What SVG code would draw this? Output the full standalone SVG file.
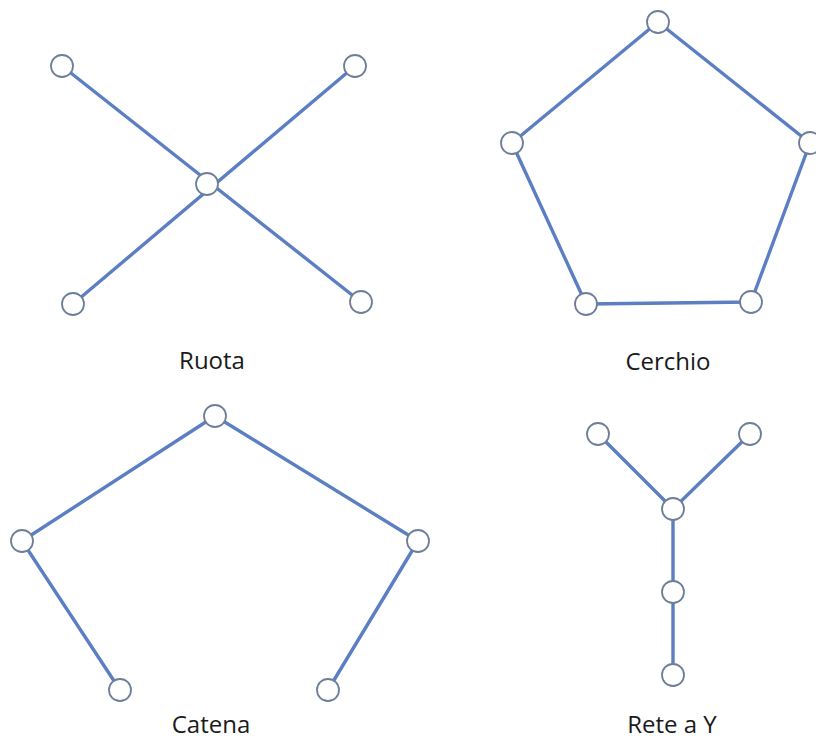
<svg xmlns="http://www.w3.org/2000/svg" width="816" height="742" viewBox="0 0 816 742">
<style>
.edge{stroke:#5b7fc2;stroke-width:3.4;fill:none;stroke-linecap:round}
.node{fill:#ffffff;stroke:#6f7e98;stroke-width:1.8}
.lbl{font-family:"Open Sans","Noto Sans",sans-serif;font-size:24px;fill:#1a1a1a;text-anchor:middle}
</style>
<rect width="816" height="742" fill="#ffffff"/>
<g id="connectors">
<line class="edge" x1="62" y1="66" x2="361" y2="302"/>
<line class="edge" x1="355" y1="66" x2="73" y2="304"/>
<polygon class="edge" points="658,22 810,143 751,302 586,304 512,143" stroke-linejoin="round"/>
<polyline class="edge" points="120,690 22,541 215,416 418,541 328,690" stroke-linejoin="round"/>
<polyline class="edge" points="598,434 673,509 750,434" stroke-linejoin="round"/>
<line class="edge" x1="673" y1="509" x2="673" y2="675"/>
</g>
<g id="ruota">
<circle class="node" cx="62" cy="66" r="11"/>
<circle class="node" cx="355" cy="66" r="11"/>
<circle class="node" cx="207" cy="184" r="11"/>
<circle class="node" cx="73" cy="304" r="11"/>
<circle class="node" cx="361" cy="302" r="11"/>
<text class="lbl" x="212" y="369">Ruota</text>
</g>
<g id="cerchio">
<circle class="node" cx="658" cy="22" r="11"/>
<circle class="node" cx="512" cy="143" r="11"/>
<circle class="node" cx="810" cy="143" r="11"/>
<circle class="node" cx="586" cy="304" r="11"/>
<circle class="node" cx="751" cy="302" r="11"/>
<text class="lbl" x="668" y="370">Cerchio</text>
</g>
<g id="catena">
<circle class="node" cx="215" cy="416" r="11"/>
<circle class="node" cx="22" cy="541" r="11"/>
<circle class="node" cx="418" cy="541" r="11"/>
<circle class="node" cx="120" cy="690" r="11"/>
<circle class="node" cx="328" cy="690" r="11"/>
<text class="lbl" x="211" y="733">Catena</text>
</g>
<g id="rete-y">
<circle class="node" cx="598" cy="434" r="11"/>
<circle class="node" cx="750" cy="434" r="11"/>
<circle class="node" cx="673" cy="509" r="11"/>
<circle class="node" cx="673" cy="592" r="11"/>
<circle class="node" cx="673" cy="675" r="11"/>
<text class="lbl" x="672" y="733">Rete a Y</text>
</g>
</svg>
